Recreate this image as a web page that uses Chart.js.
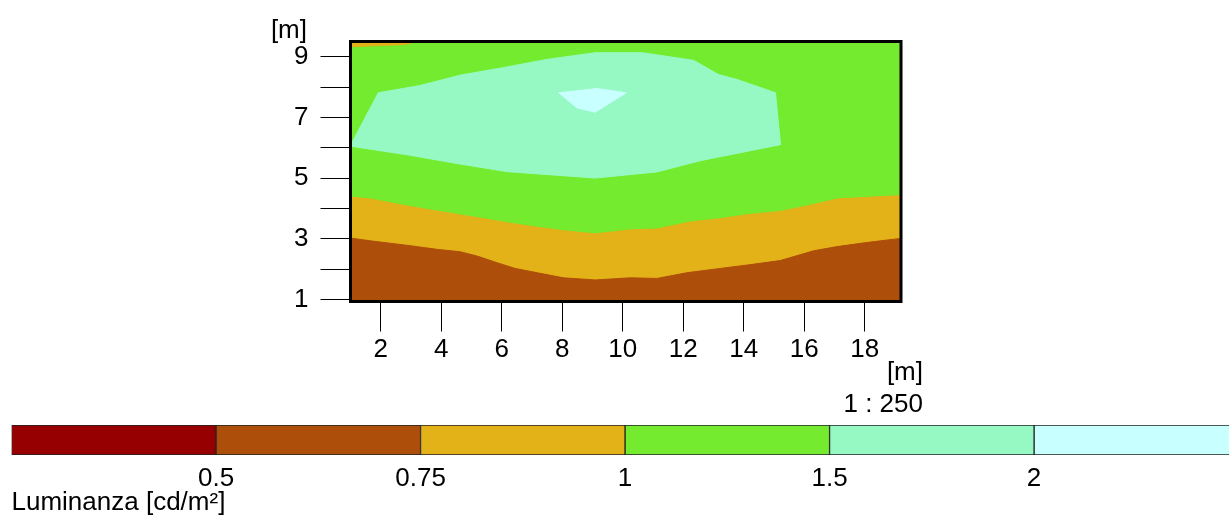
<!DOCTYPE html>
<html>
<head>
<meta charset="utf-8">
<script src="https://cdn.jsdelivr.net/npm/chart.js@4.4.0/dist/chart.umd.min.js"></script>
<style>
  body { margin: 0; background: #fff; width: 1229px; height: 515px; overflow: hidden; position: relative;
         font-family: "Liberation Sans", Arial, sans-serif; }
  #plot { position: absolute; left: 0; top: 0; }
  #scale { position: absolute; left: 0; top: 410px; }
  .t { position: absolute; font-size: 26px; line-height: 26px; color: #000; white-space: nowrap; text-align: right; }
</style>
</head>
<body>
<canvas id="plot" width="1229" height="400"></canvas>
<canvas id="scale" width="1229" height="108"></canvas>
<div class="t" style="right:922px; top:16px;">[m]</div>
<div class="t" style="right:306px; top:358px;">[m]</div>
<div class="t" style="right:306px; top:390px;">1 : 250</div>
<script>
// contour boundaries, [x, y] in metres
const orangeEdge = [[1, 4.37], [1.65, 4.31], [2.64, 4.12], [3.74, 3.93], [4.85, 3.75], [6.28, 3.51],
  [7.16, 3.38], [8.04, 3.26], [9.09, 3.16], [10.25, 3.29], [11.13, 3.32], [12.23, 3.55], [13.23, 3.66],
  [14.11, 3.79], [15.21, 3.9], [16.1, 4.08], [17.09, 4.31], [18.19, 4.37], [19.2, 4.42]];
const brownEdge = [[1, 3.02], [1.65, 2.93], [2.97, 2.77], [3.85, 2.65], [4.62, 2.57], [5.18, 2.43],
  [5.84, 2.21], [6.44, 2.02], [7.16, 1.88], [8.04, 1.71], [9.09, 1.64], [10.25, 1.71], [11.13, 1.69],
  [12.13, 1.88], [13.23, 2.02], [14.11, 2.13], [15.21, 2.28], [16.31, 2.6], [17.09, 2.74], [18.19, 2.89], [19.2, 3.01]];
const blobTop = [[1, 6.08], [1.92, 7.81], [3.3, 8.05], [4.62, 8.39], [6.06, 8.64], [7.49, 8.91], [9.09, 9.13],
  [10.64, 9.13], [12.34, 8.88], [13.17, 8.41], [13.78, 8.25], [15.05, 7.81], [15.22, 6.1]];
const blobBottom = [[1, 6.05], [2.97, 5.75], [4.51, 5.48], [6.17, 5.21], [9.09, 5.0], [11.13, 5.2],
  [12.56, 5.57], [15.22, 6.1]];
const peakTop = [[7.88, 7.81], [9.15, 7.95], [10.12, 7.81]];
const peakBottom = [[7.88, 7.81], [8.49, 7.31], [9.09, 7.17], [10.12, 7.81]];
const cornerEdge = [[1, 9.33], [2.8, 9.4], [3.2, 9.5]];

const xTicks = [2, 4, 6, 8, 10, 12, 14, 16, 18];
const yTicks = [1, 2, 3, 4, 5, 6, 7, 8, 9];

const legendColors = ["#960000", "#AD4E0A", "#E3B118", "#74EB2E", "#96F9C3", "#C8FFFF"];
const legendLimits = ["0.5", "0.75", "1", "1.5", "2"];

const pts = arr => arr.map(([x, y]) => ({ x: x, y: y }));
const font = { family: "'Liberation Sans', Arial, sans-serif", size: 26 };

function area(data, color, fill, order) {
  return { data: pts(data), backgroundColor: color, borderColor: color, borderWidth: 1,
           fill: fill, order: order, pointRadius: 0, tension: 0 };
}

const frame = {
  id: "frame",
  beforeDatasetsDraw(chart) {
    const a = chart.chartArea, c = chart.ctx;
    c.save();
    c.fillStyle = legendColors[3];
    c.fillRect(a.left, a.top, a.right - a.left, a.bottom - a.top);
    c.restore();
  },
  afterDraw(chart) {
    const a = chart.chartArea, c = chart.ctx;
    c.save();
    c.strokeStyle = "#000";
    c.lineWidth = 3;
    c.strokeRect(a.left, a.top, a.right - a.left, a.bottom - a.top);
    c.restore();
  }
};

new Chart(document.getElementById("plot"), {
  type: "line",
  data: {
    datasets: [
      area(orangeEdge, legendColors[2], "start", 6),
      area(brownEdge, legendColors[1], "start", 5),
      area(blobTop, legendColors[4], "+1", 4),
      area(blobBottom, legendColors[4], false, 4),
      area(peakTop, legendColors[5], "+1", 2),
      area(peakBottom, legendColors[5], false, 2),
      area(cornerEdge, legendColors[2], "end", 1),
    ],
  },
  options: {
    responsive: false,
    animation: false,
    layout: { padding: { left: 250, right: 328, top: 41.5, bottom: 38.5 } },
    plugins: { legend: { display: false }, tooltip: { enabled: false } },
    scales: {
      x: {
        type: "linear", min: 1, max: 19.2,
        afterBuildTicks: s => { s.ticks = xTicks.map(v => ({ value: v })); },
        afterFit: s => { s.height = 60; },
        border: { display: false },
        grid: { drawOnChartArea: false, tickLength: 30, color: "#000" },
        ticks: { font: font, color: "#000", padding: 3, maxRotation: 0, autoSkip: false },
      },
      y: {
        type: "linear", min: 0.93, max: 9.5,
        afterBuildTicks: s => { s.ticks = yTicks.map(v => ({ value: v })); },
        afterFit: s => { s.width = 100.5; },
        border: { display: false },
        grid: { drawOnChartArea: false, tickLength: 30, color: "#000" },
        ticks: { font: font, color: "#000", padding: 12, autoSkip: false,
                 callback: v => (v % 2 === 1 ? String(v) : "") },
      },
    },
  },
  plugins: [frame],
});

new Chart(document.getElementById("scale"), {
  type: "bar",
  data: {
    labels: [""],
    datasets: legendColors.map(c => ({ data: [1], backgroundColor: c, borderColor: "#222", borderWidth: 1,
      borderSkipped: false, barPercentage: 1, categoryPercentage: 1 })),
  },
  options: {
    responsive: false,
    animation: false,
    indexAxis: "y",
    layout: { padding: { left: 11.5, right: 0, top: 15, bottom: 0 } },
    plugins: { legend: { display: false }, tooltip: { enabled: false } },
    scales: {
      x: {
        stacked: true, min: 0, max: 5.953,
        afterBuildTicks: s => { s.ticks = [1, 2, 3, 4, 5].map(v => ({ value: v })); },
        afterFit: s => { s.height = 63; },
        border: { display: false },
        grid: { display: false },
        ticks: { font: font, color: "#000", padding: 0, maxRotation: 0, autoSkip: false,
                 callback: v => legendLimits[v - 1] },
        title: { display: true, text: "Luminanza [cd/m²]", align: "start", font: font, color: "#000",
                 padding: { top: 0, bottom: 0 } },
      },
      y: { stacked: true, display: false },
    },
  },
});
</script>
</body>
</html>
